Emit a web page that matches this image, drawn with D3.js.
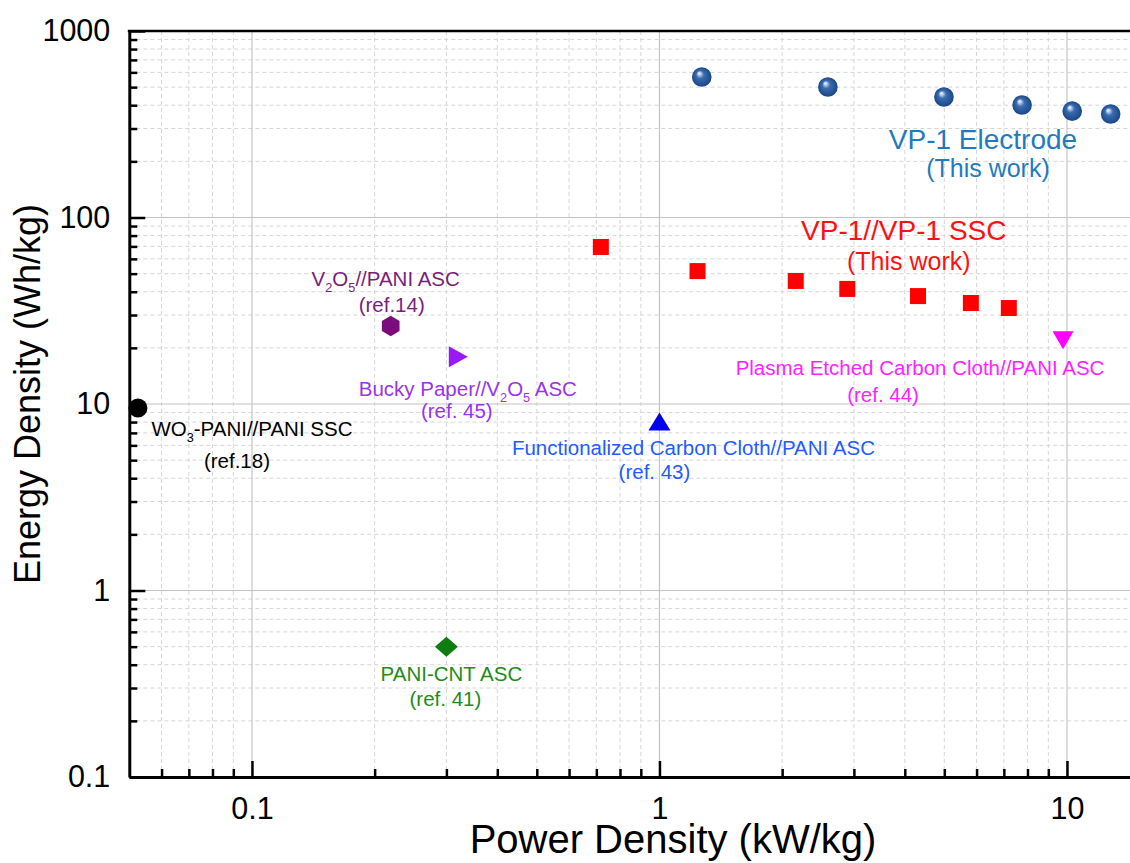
<!DOCTYPE html>
<html><head><meta charset="utf-8">
<script src="https://cdn.jsdelivr.net/npm/d3@7"></script>
<style>
html,body{margin:0;padding:0;background:#fff;overflow:hidden;}
svg{display:block;}
</style></head><body>
<svg id="chart" width="1130" height="863"></svg>
<script>
// Ragone plot: power density (kW/kg) against energy density (Wh/kg)
const electrodePower = [1.27, 2.59, 4.99, 7.76, 10.3, 12.8];
const electrodeEnergy = [567, 501, 443, 401, 372, 359];
const sscPower = [0.718, 1.24, 2.16, 2.89, 4.31, 5.81, 7.20];
const sscEnergy = [69.5, 51.6, 45.7, 41.4, 37.9, 34.8, 32.7];

const refDevices = ["WO{3}-PANI//PANI SSC", "V{2}O{5}//PANI ASC", "Bucky Paper//V{2}O{5} ASC",
  "Functionalized Carbon Cloth//PANI ASC", "Plasma Etched Carbon Cloth//PANI ASC", "PANI-CNT ASC"];
const refCitations = ["(ref.18)", "(ref.14)", "(ref. 45)", "(ref. 43)", "(ref. 44)", "(ref. 41)"];
const refPower = [0.0525, 0.219, 0.320, 1.0, 9.78, 0.30];
const refEnergy = [9.52, 26.2, 17.9, 8.06, 22.0, 0.50];

const seriesNames = ["VP-1 Electrode", "VP-1//VP-1 SSC"];
const seriesNotes = ["(This work)", "(This work)"];

const xTickValues = [0.1, 1, 10];
const xTickLabels = ["0.1", "1", "10"];
const yTickValues = [0.1, 1, 10, 100, 1000];
const yTickLabels = ["0.1", "1", "10", "100", "1000"];

// ---- styling / layout ----
const FONT = "'Liberation Sans', Arial, Helvetica, sans-serif";
const refShapes = ["circle", "hexagon", "triRight", "triUp", "triDown", "diamond"];
const refFill = ["#000000", "#7b0c7b", "#9b19f5", "#0000ee", "#ff00ff", "#0d7d0d"];
const refTextColor = ["#000000", "#7a1f7a", "#9933ee", "#1f5bff", "#ff22ff", "#1c8c1c"];
// [dx line1, dy line1, dx line2, dy line2] relative to the marker
const refLabelOffsets = [[114, 28, 99, 60], [-5, -40, 1, -14], [10, 39, -1, 61],
  [34, 34, -5, 58], [-143, 35, -180, 62], [5, 34, -1, 59]];

const svg = d3.select("#chart");
const plotLeft = 129.3, plotTop = 31, plotBottom = 777, decadeX = 407.5;

const x = d3.scaleLog().domain([0.05, 15])
  .range([plotLeft, plotLeft + decadeX * Math.log10(15 / 0.05)]);
const y = d3.scaleLog().domain([0.1, 1000]).range([plotBottom, plotTop]);

function minorValues(scale, majors) {
  const [a, b] = scale.domain();
  const out = [];
  for (let e = Math.floor(Math.log10(a)); e <= Math.ceil(Math.log10(b)); e++) {
    for (let k = 2; k <= 9; k++) {
      const v = +(k * Math.pow(10, e)).toPrecision(6);
      if (v > a * 1.0001 && v < b * 0.9999 && !majors.includes(v)) out.push(v);
    }
  }
  return out;
}
const xMinor = minorValues(x, xTickValues);
const yMinor = minorValues(y, yTickValues);
const xRight = x.range()[1];

// grid
const grid = svg.append("g");
grid.selectAll(".vmin").data(xMinor).join("line")
  .attr("x1", d => x(d)).attr("x2", d => x(d)).attr("y1", plotTop).attr("y2", plotBottom)
  .attr("stroke", "#d6d6d6").attr("stroke-width", 1).attr("stroke-dasharray", "4,3");
grid.selectAll(".hmin").data(yMinor).join("line")
  .attr("x1", plotLeft).attr("x2", xRight).attr("y1", d => y(d)).attr("y2", d => y(d))
  .attr("stroke", "#d6d6d6").attr("stroke-width", 1).attr("stroke-dasharray", "4,3");
grid.selectAll(".vmaj").data(xTickValues).join("line")
  .attr("x1", d => x(d)).attr("x2", d => x(d)).attr("y1", plotTop).attr("y2", plotBottom)
  .attr("stroke", "#c4c4c4").attr("stroke-width", 1.2);
grid.selectAll(".hmaj").data(yTickValues.filter(v => v > 0.1 && v < 1000)).join("line")
  .attr("x1", plotLeft).attr("x2", xRight).attr("y1", d => y(d)).attr("y2", d => y(d))
  .attr("stroke", "#c4c4c4").attr("stroke-width", 1.2);

// axes
function styleAxis(g) {
  g.selectAll("path.domain").attr("stroke", "#000").attr("stroke-width", 3);
  g.selectAll(".tick line").attr("stroke", "#000").attr("stroke-width", 2.5);
  g.selectAll(".tick text").attr("fill", "#000").style("font-family", FONT).style("font-size", "30.5px");
}
svg.append("g").attr("transform", `translate(0,${plotBottom})`)
  .call(d3.axisBottom(x).tickValues(xMinor).tickFormat("").tickSizeInner(-8).tickSizeOuter(0))
  .call(g => g.select(".domain").remove()).call(styleAxis);
svg.append("g").attr("transform", `translate(${plotLeft},0)`)
  .call(d3.axisLeft(y).tickValues(yMinor).tickFormat("").tickSizeInner(-8).tickSizeOuter(0))
  .call(g => g.select(".domain").remove()).call(styleAxis);
svg.append("g").attr("transform", `translate(0,${plotBottom})`)
  .call(d3.axisBottom(x).tickValues(xTickValues).tickFormat((d, i) => xTickLabels[i])
    .tickSizeInner(-16).tickSizeOuter(0).tickPadding(20))
  .call(styleAxis);
svg.append("g").attr("transform", `translate(${plotLeft},0)`)
  .call(d3.axisLeft(y).tickValues(yTickValues).tickFormat((d, i) => yTickLabels[i])
    .tickSizeInner(-16).tickSizeOuter(0).tickPadding(19))
  .call(styleAxis);
svg.append("line").attr("x1", plotLeft - 1.5).attr("x2", xRight).attr("y1", plotTop).attr("y2", plotTop)
  .attr("stroke", "#000").attr("stroke-width", 2.5);

// axis titles
svg.append("text").attr("x", 673).attr("y", 853).attr("text-anchor", "middle")
  .style("font-family", FONT).style("font-size", "40px").text("Power Density (kW/kg)");
svg.append("text").attr("transform", "translate(40,394) rotate(-90)").attr("text-anchor", "middle")
  .style("font-family", FONT).style("font-size", "36px").text("Energy Density (Wh/kg)");

// text helper: "{...}" marks subscript runs
function richText(sel, str, size) {
  const parts = str.split(/(\{[^}]*\})/).filter(s => s.length);
  let sub = false;
  parts.forEach(p => {
    if (p.startsWith("{")) {
      sel.append("tspan").attr("dy", size * 0.28).style("font-size", (size * 0.62) + "px").text(p.slice(1, -1));
      sub = true;
    } else {
      const t = sel.append("tspan").text(p);
      if (sub) { t.attr("dy", -size * 0.28); sub = false; }
    }
  });
}
function label(cx, cy, str, size, color) {
  const t = svg.append("text").attr("x", cx).attr("y", cy).attr("text-anchor", "middle")
    .attr("fill", color).style("font-family", FONT).style("font-size", size + "px");
  richText(t, str, size);
}

// sphere shading for the electrode markers
const defs = svg.append("defs");
const rg = defs.append("radialGradient").attr("id", "sphere")
  .attr("cx", "50%").attr("cy", "50%").attr("r", "50%").attr("fx", "36%").attr("fy", "30%");
rg.append("stop").attr("offset", "0%").attr("stop-color", "#ffffff");
rg.append("stop").attr("offset", "12%").attr("stop-color", "#c9d8ee");
rg.append("stop").attr("offset", "40%").attr("stop-color", "#3a6cb2");
rg.append("stop").attr("offset", "100%").attr("stop-color", "#1b4684");

// VP-1 electrode
svg.append("g").selectAll("circle").data(electrodePower).join("circle")
  .attr("cx", d => x(d)).attr("cy", (d, i) => y(electrodeEnergy[i])).attr("r", 9.8)
  .attr("fill", "url(#sphere)");

// VP-1//VP-1 SSC
const sq = 16;
svg.append("g").selectAll("rect").data(sscPower).join("rect")
  .attr("x", d => x(d) - sq / 2).attr("y", (d, i) => y(sscEnergy[i]) - sq / 2)
  .attr("width", sq).attr("height", sq).attr("fill", "#ff0000");

// series labels anchored to the third point of each series
const ex = x(electrodePower[2]), ey = y(electrodeEnergy[2]);
label(ex + 39, ey + 52, seriesNames[0], 28, "#1f7bbf");
label(ex + 44, ey + 80, seriesNotes[0], 25, "#1f7bbf");
const sx = x(sscPower[2]), sy = y(sscEnergy[2]);
label(sx + 108, sy - 41, seriesNames[1], 28, "#ff1010");
label(sx + 113, sy - 11, seriesNotes[1], 25, "#ff1010");

// reference devices
function shapePath(kind) {
  switch (kind) {
    case "hexagon": {
      const r = 10.2;
      return d3.range(6).map(k => {
        const a = Math.PI / 2 + k * Math.PI / 3;
        return [r * Math.cos(a), r * Math.sin(a)];
      }).map((p, k) => (k ? "L" : "M") + p[0].toFixed(2) + "," + p[1].toFixed(2)).join("") + "Z";
    }
    case "triRight": return "M-9,-10.5L10,0L-9,10.5Z";
    case "triUp": return "M0,-9L11,9L-11,9Z";
    case "triDown": return "M-10.5,-9L10.5,-9L0,9Z";
    case "diamond": return "M0,-10L11.5,0L0,10L-11.5,0Z";
  }
  return "";
}
const refG = svg.append("g");
refPower.forEach((p, i) => {
  const cx = x(p), cy = y(refEnergy[i]);
  if (refShapes[i] === "circle") {
    refG.append("circle").attr("cx", cx).attr("cy", cy).attr("r", 9.5).attr("fill", refFill[i]);
  } else {
    refG.append("path").attr("transform", `translate(${cx},${cy})`)
      .attr("d", shapePath(refShapes[i])).attr("fill", refFill[i]);
  }
  const o = refLabelOffsets[i];
  label(cx + o[0], cy + o[1], refDevices[i], 20.5, refTextColor[i]);
  label(cx + o[2], cy + o[3], refCitations[i], 20.5, refTextColor[i]);
});
</script>
</body></html>
